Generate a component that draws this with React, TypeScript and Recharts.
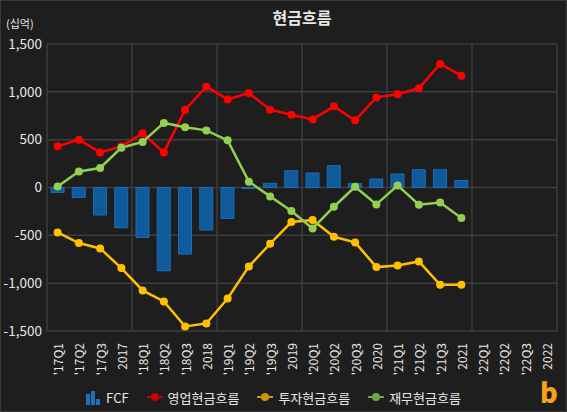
import React from 'react';
import { ComposedChart, Bar, Line, XAxis, YAxis, CartesianGrid, Legend } from 'recharts';

const categories = [
  "'17Q1", "'17Q2", "'17Q3", '2017',
  "'18Q1", "'18Q2", "'18Q3", '2018',
  "'19Q1", "'19Q2", "'19Q3", '2019',
  "'20Q1", "'20Q2", "'20Q3", '2020',
  "'21Q1", "'21Q2", "'21Q3", '2021',
  "'22Q1", "'22Q2", "'22Q3", '2022',
];

const fcf = [-51, -104, -288, -420, -522, -870, -696, -445, -323, -10, 43, 176, 152, 228, 43, 89, 141, 186, 186, 74];
const operating = [430, 500, 367, 430, 566, 367, 814, 1054, 921, 988, 814, 761, 712, 848, 702, 942, 974, 1037, 1292, 1169];
const investing = [-470, -581, -637, -842, -1076, -1191, -1453, -1421, -1160, -825, -588, -361, -340, -515, -574, -832, -815, -773, -1017, -1017];
const financing = [10, 168, 204, 416, 476, 675, 629, 597, 493, 61, -93, -246, -428, -201, 8, -177, 22, -180, -156, -319];

const yTicks = [-1500, -1000, -500, 0, 500, 1000, 1500];

const seriesNames = { fcf: 'FCF', op: '영업현금흐름', inv: '투자현금흐름', fin: '재무현금흐름' };

const data = categories.map((name, i) => ({
  name,
  fcf: i < fcf.length ? fcf[i] : null,
  op: i < operating.length ? operating[i] : null,
  inv: i < investing.length ? investing[i] : null,
  fin: i < financing.length ? financing[i] : null,
}));

const FONT = "'Noto Sans CJK KR', 'Noto Sans', sans-serif";
const TEXT = '#e8e8e8';
const GRID = '#3d3d3d';
const BG = '#1e1e1e';

const XTick = (props: any) => {
  const { x, y, payload } = props;
  return (
    <text
      x={x}
      y={y}
      transform={`rotate(-90 ${x} ${y})`}
      textAnchor="end"
      dominantBaseline="central"
      fill={TEXT}
      fontSize={12}
      fontFamily={FONT}
    >
      {payload.value}
    </text>
  );
};

const LineIcon = ({ color }: { color: string }) => (
  <svg width={16} height={10} style={{ display: 'block' }}>
    <line x1={0} y1={5} x2={16} y2={5} stroke={color} strokeWidth={2} />
    <circle cx={8} cy={5} r={4} fill={color} />
  </svg>
);

const BarIcon = () => (
  <svg width={16} height={16} style={{ display: 'block' }}>
    <rect x={1} y={5} width={4} height={11} fill="#1f6fb8" />
    <rect x={6} y={2} width={4} height={14} fill="#1f6fb8" />
    <rect x={11} y={10} width={4} height={6} fill="#1f6fb8" />
  </svg>
);

const LegendContent = () => {
  const item = (icon: React.ReactNode, label: string) => (
    <div style={{ display: 'flex', alignItems: 'center', gap: 5 }}>
      {icon}
      <span>{label}</span>
    </div>
  );
  return (
    <div
      style={{
        display: 'flex',
        justifyContent: 'center',
        alignItems: 'center',
        gap: 18,
        height: 30,
        paddingRight: 11,
        fontFamily: FONT,
        fontSize: 13,
        color: TEXT,
      }}
    >
      {item(<BarIcon />, seriesNames.fcf)}
      {item(<LineIcon color="#c80000" />, seriesNames.op)}
      {item(<LineIcon color="#c8960a" />, seriesNames.inv)}
      {item(<LineIcon color="#6fa845" />, seriesNames.fin)}
    </div>
  );
};

export default function App() {
  return (
    <div style={{ position: 'absolute', left: 0, top: 0, width: 567, height: 412, background: BG, overflow: 'hidden' }}>
      <ComposedChart
        width={567}
        height={412}
        data={data}
        margin={{ top: 44, right: 10, bottom: 0, left: 0 }}
      >
        <CartesianGrid
          stroke={GRID}
          strokeWidth={1.5}
          verticalCoordinatesGenerator={({ offset }: any) =>
            [0, 1, 2, 3, 4, 5, 6].map((k) => offset.left + (offset.width * k) / 6)
          }
        />
        <XAxis
          dataKey="name"
          interval={0}
          axisLine={false}
          tickLine={false}
          tickSize={0}
          tickMargin={12}
          height={51}
          tick={<XTick />}
        />
        <YAxis
          width={47}
          domain={[-1500, 1500]}
          ticks={yTicks}
          axisLine={false}
          tickLine={false}
          tickSize={0}
          tickMargin={5}
          tickFormatter={(v: number) => v.toLocaleString('en-US')}
          tick={{ fill: TEXT, fontSize: 13.5, fontFamily: FONT }}
        />
        <Legend verticalAlign="bottom" content={<LegendContent />} />
        <Bar
          dataKey="fcf"
          name={seriesNames.fcf}
          barSize={13}
          fill="#0f5a98"
          stroke="#1a6dbb"
          strokeWidth={1}
          isAnimationActive={false}
        />
        <Line
          dataKey="op"
          name={seriesNames.op}
          stroke="#ff0000"
          strokeWidth={2.5}
          dot={{ r: 4, fill: '#ff0000', stroke: '#ff0000', strokeWidth: 0 }}
          isAnimationActive={false}
        />
        <Line
          dataKey="inv"
          name={seriesNames.inv}
          stroke="#ffc000"
          strokeWidth={2.5}
          dot={{ r: 4, fill: '#ffc000', stroke: '#ffc000', strokeWidth: 0 }}
          isAnimationActive={false}
        />
        <Line
          dataKey="fin"
          name={seriesNames.fin}
          stroke="#92d050"
          strokeWidth={2.5}
          dot={{ r: 4, fill: '#92d050', stroke: '#92d050', strokeWidth: 0 }}
          isAnimationActive={false}
        />
      </ComposedChart>
      <div
        style={{
          position: 'absolute',
          left: 47,
          width: 510,
          top: 6,
          lineHeight: '22px',
          textAlign: 'center',
          fontFamily: FONT,
          fontWeight: 700,
          fontSize: 16,
          color: TEXT,
        }}
      >
        현금흐름
      </div>
      <div
        style={{
          position: 'absolute',
          left: 6,
          top: 15,
          lineHeight: '16px',
          fontFamily: FONT,
          fontSize: 11,
          color: TEXT,
        }}
      >
        (십억)
      </div>
      <div
        style={{
          position: 'absolute',
          left: 538,
          top: 378,
          width: 22,
          lineHeight: '28px',
          textAlign: 'center',
          fontFamily: FONT,
          fontWeight: 900,
          fontSize: 27,
          color: '#f7a21b',
        }}
      >
        b
      </div>
      <div
        style={{
          position: 'absolute',
          left: 0,
          top: 0,
          width: 567,
          height: 412,
          boxSizing: 'border-box',
          border: '1px solid #3a3a3a',
          pointerEvents: 'none',
        }}
      />
    </div>
  );
}
